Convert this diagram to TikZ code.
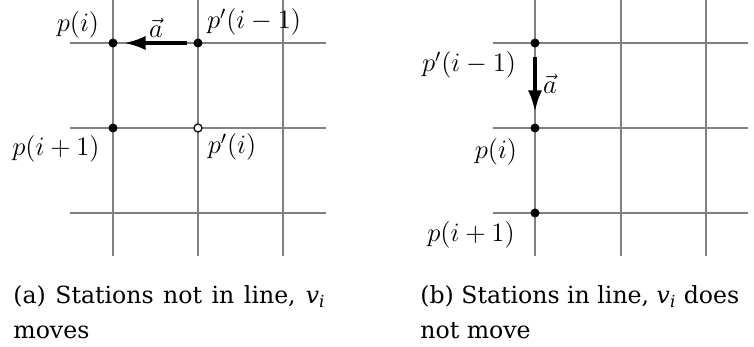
\RequirePackage{fix-cm}
\documentclass[tikz,border=0pt]{standalone}
\usepackage{fontspec}
\newfontfamily\capfont{DejaVu Serif}
\usetikzlibrary{arrows.meta}
\tikzset{
  gridline/.style={draw=black!50, line width=0.6pt},
  dotfull/.style={circle, fill=black, inner sep=0pt, minimum size=4.5pt},
  dotopen/.style={circle, draw=black, fill=white, line width=0.6pt, inner sep=0pt, minimum size=4pt},
  lbl/.style={inner sep=0pt, font=\fontsize{13.3}{15}\selectfont},
  vecarrow/.style={line width=2pt, -{Latex[length=11pt,width=7pt]}},
  captxt/.style={inner sep=0pt, anchor=base west, font=\capfont\fontsize{11.8}{14}\selectfont}
}
\begin{document}
\begin{tikzpicture}[x=0.5pt,y=-0.5pt]
\useasboundingbox (0,0) rectangle (754,347);
% ---- left grid
\foreach \gx in {113,198,283} \draw[gridline] (\gx,0) -- (\gx,256);
\foreach \gy in {43,128,213} \draw[gridline] (70,\gy) -- (326,\gy);
% ---- right grid
\foreach \gx in {535,621,706} \draw[gridline] (\gx,0) -- (\gx,256);
\foreach \gy in {43,128,213} \draw[gridline] (493,\gy) -- (748,\gy);
% ---- left points
\node[dotfull] (lp) at (113,43) {};
\node[dotfull] (lpp) at (198,43) {};
\node[dotfull] (lq) at (113,128) {};
\node[dotopen] (lqq) at (198,128) {};
\draw[vecarrow, shorten <=3.3pt, shorten >=2.8pt] (lpp) -- (lp);
\node[lbl] (lpl) at (78,25) {$p(i)$};
\node[lbl] (lppl) at (254,22) {$p'(i-1)$};
\node[lbl] (lql) at (56,149) {$p(i+1)$};
\node[lbl] (lqql) at (232,147) {$p'(i)$};
\node[lbl] (lal) at (156,28) {$\vec{a}$};
% ---- right points
\node[dotfull] (rpp) at (535,43) {};
\node[dotfull] (rp) at (535,128) {};
\node[dotfull] (rq) at (535,213) {};
\draw[vecarrow, shorten <=4.8pt, shorten >=5.3pt] (rpp) -- (rp);
\node[lbl] (rppl) at (469,65) {$p'(i-1)$};
\node[lbl] (ral) at (550,84) {$\vec{a}$};
\node[lbl] (rpl) at (496,152) {$p(i)$};
\node[lbl] (rql) at (471,235) {$p(i+1)$};
% ---- captions
\node[captxt] (capa1) at (13,303) {\makebox[156pt][s]{(a) Stations not in line, \textit{v}\textsubscript{\textit{i}}}};
\node[captxt] (capa2) at (13,338) {moves};
\node[captxt] (capb1) at (420,303) {(b) Stations in line, \textit{v}\textsubscript{\textit{i}} does};
\node[captxt] (capb2) at (420,338) {not move};
\end{tikzpicture}
\end{document}
